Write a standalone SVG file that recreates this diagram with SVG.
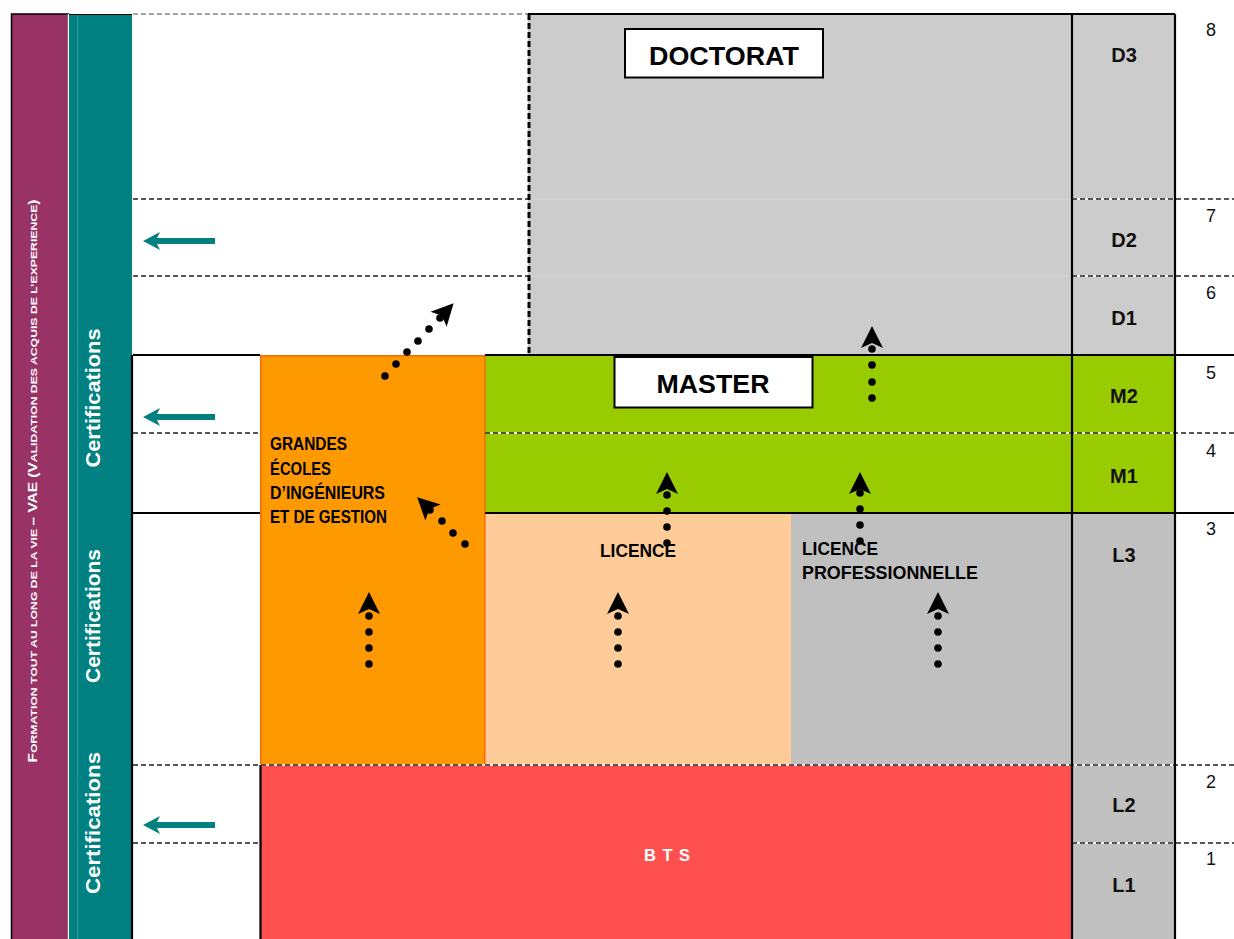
<svg xmlns="http://www.w3.org/2000/svg" xmlns:xlink="http://www.w3.org/1999/xlink" width="1234" height="939" viewBox="0 0 1234 939">
<style>
.lbl{font-family:"Liberation Sans",Arial,sans-serif;font-weight:bold;fill:#000}
.lvl{font-family:"Liberation Sans",Arial,sans-serif;font-weight:bold;font-size:20px;fill:#111;text-anchor:middle}
.num{font-family:"Liberation Sans",Arial,sans-serif;font-size:18px;fill:#111;text-anchor:middle}
.cert{font-family:"Liberation Sans",Arial,sans-serif;font-weight:bold;font-size:21px;fill:#fff;text-anchor:middle}
.dash{stroke:#222;stroke-width:1.6;stroke-dasharray:5 3;fill:none}
.dashbg{stroke:#fff;stroke-width:1.6;fill:none}
.solid{stroke:#000;stroke-width:2.2;fill:none}
.box{fill:#fff;stroke:#000;stroke-width:2}
</style>
<defs>
<path id="ah" d="M0,-22 L11,0 L0,-5 L-11,0 Z" fill="#000"/>
<circle id="dot" r="3.8" fill="#000"/>
<path id="tarrow" d="M0,0 L17,-9 L14,-3 L72,-3 L72,3 L14,3 L17,9 Z" fill="#008080"/>
</defs>
<rect x="0" y="0" width="1234" height="939" fill="#fff"/>

<g id="side-vae">
<rect x="11.5" y="14" width="57" height="926" fill="#993366" stroke="#000" stroke-width="1.5"/>
<text transform="translate(37,481) rotate(-90)" font-family="Liberation Sans,Arial,sans-serif" font-weight="bold" fill="#fff" text-anchor="middle" textLength="563" lengthAdjust="spacingAndGlyphs"><tspan font-size="12">F</tspan><tspan font-size="9.5">ORMATION TOUT AU LONG DE LA VIE </tspan><tspan font-size="12">– VAE (V</tspan><tspan font-size="9.5">ALIDATION DES ACQUIS DE  L’EXPERIENCE</tspan><tspan font-size="12">)</tspan></text>
</g>
<g id="side-cert">
<line x1="68.5" y1="14" x2="68.5" y2="939" stroke="#fff" stroke-width="1.5"/>
<rect x="69" y="14" width="63" height="925" fill="#008080"/>
<line x1="77.5" y1="14" x2="77.5" y2="939" stroke="#2a9a9a" stroke-width="1"/>
<line x1="69" y1="14.5" x2="132" y2="14.5" stroke="#000" stroke-width="1.2"/>
<text class="cert" transform="translate(100,398) rotate(-90)" textLength="139" lengthAdjust="spacingAndGlyphs">Certifications</text>
<text class="cert" transform="translate(100,616) rotate(-90)" textLength="134" lengthAdjust="spacingAndGlyphs">Certifications</text>
<text class="cert" transform="translate(100,823) rotate(-90)" textLength="142" lengthAdjust="spacingAndGlyphs">Certifications</text>
</g>

<g id="doctorat">
<rect x="528" y="14" width="544" height="341" fill="#cccccc"/>
<line x1="530" y1="199" x2="1072" y2="199" stroke="#d8d8d8" stroke-width="1"/>
<line x1="530" y1="276" x2="1072" y2="276" stroke="#d8d8d8" stroke-width="1"/>
<rect class="box" x="625" y="29" width="198" height="48.5"/>
<text class="lbl" x="724" y="65" font-size="26.5" text-anchor="middle" textLength="150" lengthAdjust="spacingAndGlyphs">DOCTORAT</text>
</g>
<g id="master">
<rect x="485" y="355" width="587" height="158" fill="#99cc00"/>
<rect class="box" x="614.5" y="357" width="198" height="50.5"/>
<text class="lbl" x="713" y="393" font-size="26.5" text-anchor="middle" textLength="113" lengthAdjust="spacingAndGlyphs">MASTER</text>
</g>
<g id="licence">
<rect x="485" y="513" width="306" height="252" fill="#ffcc99"/>
<text class="lbl" x="600" y="557" font-size="18" textLength="76" lengthAdjust="spacingAndGlyphs">LICENCE</text>
</g>
<g id="licence-pro">
<rect x="791" y="513" width="281" height="252" fill="#c0c0c0"/>
<text class="lbl" x="802" y="555" font-size="18" textLength="76" lengthAdjust="spacingAndGlyphs">LICENCE</text>
<text class="lbl" x="802" y="579" font-size="18" textLength="176" lengthAdjust="spacingAndGlyphs">PROFESSIONNELLE</text>
</g>
<g id="grandes-ecoles">
<rect x="260.75" y="355.75" width="224" height="409" fill="#ff9900" stroke="#ff6600" stroke-width="1.5"/>
<text class="lbl" font-size="18">
<tspan x="270" y="450" textLength="77" lengthAdjust="spacingAndGlyphs">GRANDES</tspan>
<tspan x="270" y="475" textLength="61" lengthAdjust="spacingAndGlyphs">ÉCOLES</tspan>
<tspan x="270" y="499" textLength="115" lengthAdjust="spacingAndGlyphs">D’INGÉNIEURS</tspan>
<tspan x="270" y="523" textLength="117" lengthAdjust="spacingAndGlyphs">ET DE GESTION</tspan>
</text>
</g>
<g id="bts">
<rect x="260" y="765" width="812" height="174" fill="#ff5050"/>
<text x="644" y="861" font-family="Liberation Sans,Arial,sans-serif" font-weight="bold" font-size="16.5" fill="#fff" letter-spacing="6.5">BTS</text>
</g>
<g id="levels">
<rect x="1072" y="14" width="103" height="341" fill="#cccccc"/>
<rect x="1072" y="355" width="103" height="158" fill="#99cc00"/>
<rect x="1072" y="513" width="103" height="426" fill="#c0c0c0"/>
<text class="lvl" x="1124" y="62">D3</text>
<text class="lvl" x="1124" y="247">D2</text>
<text class="lvl" x="1124" y="325">D1</text>
<text class="lvl" x="1124" y="403">M2</text>
<text class="lvl" x="1124" y="483">M1</text>
<text class="lvl" x="1124" y="562">L3</text>
<text class="lvl" x="1124" y="812">L2</text>
<text class="lvl" x="1124" y="892">L1</text>
</g>
<g id="numbers">
<text class="num" x="1211" y="36">8</text>
<text class="num" x="1211" y="222">7</text>
<text class="num" x="1211" y="299">6</text>
<text class="num" x="1211" y="379">5</text>
<text class="num" x="1211" y="457">4</text>
<text class="num" x="1211" y="535">3</text>
<text class="num" x="1211" y="788">2</text>
<text class="num" x="1211" y="865">1</text>
</g>

<g id="grid">
<line x1="133" y1="14" x2="528" y2="14" stroke="#888" stroke-width="1.5" stroke-dasharray="5 3"/>
<path class="dashbg" d="M1072,199H1234M1072,276H1234M485,433H1234M260,765H1234M1072,843H1234"/>
<path class="dash" d="M133,199H528M1072,199H1234M133,276H528M1072,276H1234M133,433H260M485,433H1234M133,765H1234M133,843H260M1072,843H1234"/>
<path class="solid" d="M528,14H1175M133,355H260M485,355H1234M133,513H260M485,513H1234"/>
<path class="solid" d="M132,355V939M1072,14V939M1175,14V939M260.5,765V939"/>
<line x1="529" y1="14" x2="529" y2="355" stroke="#000" stroke-width="3" stroke-dasharray="6 3"/>
</g>

<g id="connectors">
<use href="#tarrow" transform="translate(143,241)"/>
<use href="#tarrow" transform="translate(143,417)"/>
<use href="#tarrow" transform="translate(143,825)"/>

<g id="arrow-ge-up">
<use href="#dot" x="369" y="616"/><use href="#dot" x="369" y="632"/><use href="#dot" x="369" y="648"/><use href="#dot" x="369" y="664"/>
<use href="#ah" transform="translate(369,614)"/>
</g>
<g id="arrow-lic-up">
<use href="#dot" x="618" y="616"/><use href="#dot" x="618" y="632"/><use href="#dot" x="618" y="648"/><use href="#dot" x="618" y="664"/>
<use href="#ah" transform="translate(618,614)"/>
</g>
<g id="arrow-pro-up">
<use href="#dot" x="938" y="616"/><use href="#dot" x="938" y="632"/><use href="#dot" x="938" y="648"/><use href="#dot" x="938" y="664"/>
<use href="#ah" transform="translate(938,614)"/>
</g>
<g id="arrow-lic-m1">
<use href="#dot" x="667" y="495"/><use href="#dot" x="667" y="511"/><use href="#dot" x="667" y="527"/><use href="#dot" x="667" y="543"/>
<use href="#ah" transform="translate(667,494)"/>
</g>
<g id="arrow-pro-m1">
<use href="#dot" x="860" y="493"/><use href="#dot" x="860" y="509"/><use href="#dot" x="860" y="525"/><use href="#dot" x="860" y="541"/>
<use href="#ah" transform="translate(860,494)"/>
</g>
<g id="arrow-m2-d1">
<use href="#dot" x="872" y="349"/><use href="#dot" x="872" y="365"/><use href="#dot" x="872" y="382"/><use href="#dot" x="872" y="398"/>
<use href="#ah" transform="translate(872,348)"/>
</g>
<g id="arrow-ge-doct">
<use href="#dot" x="385" y="376"/><use href="#dot" x="396" y="364"/><use href="#dot" x="407" y="352"/><use href="#dot" x="418" y="341"/><use href="#dot" x="429" y="329"/><use href="#dot" x="440" y="318"/>
<use href="#ah" transform="translate(438.6,319.3) rotate(43)"/>
</g>
<g id="arrow-lic-ge">
<use href="#dot" x="465" y="544"/><use href="#dot" x="453" y="533"/><use href="#dot" x="442" y="521"/><use href="#dot" x="430" y="510"/>
<use href="#ah" transform="translate(433,512.5) rotate(-46)"/>
</g>
</g>
</svg>
